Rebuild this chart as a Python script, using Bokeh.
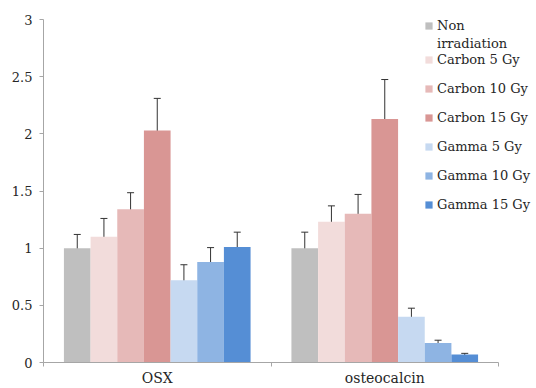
import numpy as np
from bokeh.plotting import figure
from bokeh.models import (ColumnDataSource, Whisker, TeeHead, FixedTicker, Legend, LegendItem, Range1d)
from bokeh.embed import file_html
from bokeh.resources import INLINE

# ---- data ----
categories = ["OSX", "osteocalcin"]
series_names = ["Non irradiation", "Carbon 5 Gy", "Carbon 10 Gy", "Carbon 15 Gy",
                "Gamma 5 Gy", "Gamma 10 Gy", "Gamma 15 Gy"]
non_irradiation = [1.00, 1.00]
non_irradiation_err = [0.12, 0.14]
carbon_5 = [1.10, 1.23]
carbon_5_err = [0.16, 0.14]
carbon_10 = [1.34, 1.30]
carbon_10_err = [0.145, 0.17]
carbon_15 = [2.03, 2.13]
carbon_15_err = [0.28, 0.345]
gamma_5 = [0.72, 0.40]
gamma_5_err = [0.135, 0.075]
gamma_10 = [0.88, 0.17]
gamma_10_err = [0.125, 0.025]
gamma_15 = [1.01, 0.07]
gamma_15_err = [0.13, 0.01]
y_ticks = [0, 0.5, 1, 1.5, 2, 2.5, 3]
y_tick_labels = ["0", "0.5", "1", "1.5", "2", "2.5", "3"]

values = [non_irradiation, carbon_5, carbon_10, carbon_15, gamma_5, gamma_10, gamma_15]
errors = [non_irradiation_err, carbon_5_err, carbon_10_err, carbon_15_err,
          gamma_5_err, gamma_10_err, gamma_15_err]
colors = ["#BFBFBF", "#F2DCDB", "#E6B9B8", "#D99694", "#C6D9F1", "#8EB4E3", "#558ED5"]

FONT = "DejaVu Serif"
AXIS_COLOR = "#A6A6A6"
TEXT_COLOR = "#262626"

p = figure(width=536, height=388, output_backend="svg", toolbar_location=None,
           x_range=Range1d(0, 493 / 227.5), y_range=Range1d(0, 3),
           min_border_left=43, min_border_right=0, min_border_top=19, min_border_bottom=26)
p.outline_line_color = None
p.xgrid.visible = False
p.ygrid.visible = False

n = len(values)
bar_w = 0.1172
renderers = []
for i in range(n):
    offset = (i - (n - 1) / 2) * bar_w
    xs = np.arange(len(categories)) + 0.5 + offset
    v = np.array(values[i])
    e = np.array(errors[i])
    src = ColumnDataSource(dict(x=xs, top=v, upper=v + e, lower=v - e))
    r = p.vbar(x="x", top="top", width=bar_w, bottom=0, source=src,
               fill_color=colors[i], line_color=None)
    w = Whisker(base="x", upper="upper", lower="lower", source=src,
                line_color="#333333", line_width=1,
                upper_head=TeeHead(size=7, line_color="#333333", line_width=1),
                lower_head=TeeHead(size=7, line_color="#333333", line_width=1))
    p.add_layout(w)
    renderers.append(r)

# invisible renderer used only to carry the wrapped second line of the first legend label
blank = p.vbar(x=[], top=[], width=bar_w, fill_alpha=0, line_color=None)

legend_style = dict(margin=0, padding=0, glyph_width=9, glyph_height=9, label_standoff=4,
                    label_height=17,
                    label_text_font=FONT, label_text_font_size="13px",
                    label_text_color=TEXT_COLOR,
                    border_line_color=None, background_fill_alpha=0)
first_words = series_names[0].split(" ")
legend_a = Legend(items=[LegendItem(label=first_words[0], renderers=[renderers[0]]),
                         LegendItem(label=first_words[1], renderers=[blank])],
                  location=(381, 310), spacing=1, **legend_style)
legend_b = Legend(items=[LegendItem(label=series_names[i], renderers=[renderers[i]])
                         for i in range(1, n)],
                  location=(381, 149), spacing=12, **legend_style)
p.add_layout(legend_a)
p.add_layout(legend_b)

# y axis
p.yaxis.ticker = FixedTicker(ticks=y_ticks)
p.yaxis.major_label_overrides = {t: l for t, l in zip(y_ticks, y_tick_labels)}
p.yaxis.axis_line_color = AXIS_COLOR
p.yaxis.major_tick_line_color = AXIS_COLOR
p.yaxis.major_tick_out = 4
p.yaxis.major_tick_in = 0
p.yaxis.minor_tick_line_color = None
p.yaxis.major_label_standoff = 7
p.yaxis.major_label_text_font = FONT
p.yaxis.major_label_text_font_size = "13px"
p.yaxis.major_label_text_color = TEXT_COLOR

# x axis
cat_centers = [i + 0.5 for i in range(len(categories))]
p.xaxis.ticker = FixedTicker(ticks=cat_centers, minor_ticks=list(range(len(categories) + 1)))
p.xaxis.major_label_overrides = {c: l for c, l in zip(cat_centers, categories)}
p.xaxis.bounds = (0, len(categories))
p.xaxis.axis_line_color = AXIS_COLOR
p.xaxis.major_tick_line_color = None
p.xaxis.major_tick_out = 0
p.xaxis.major_tick_in = 0
p.xaxis.minor_tick_line_color = AXIS_COLOR
p.xaxis.minor_tick_out = 4
p.xaxis.minor_tick_in = 0
p.xaxis.major_label_standoff = 3
p.xaxis.major_label_text_font = FONT
p.xaxis.major_label_text_font_size = "14px"
p.xaxis.major_label_text_color = TEXT_COLOR

open("out.html", "w").write(file_html(p, INLINE))
